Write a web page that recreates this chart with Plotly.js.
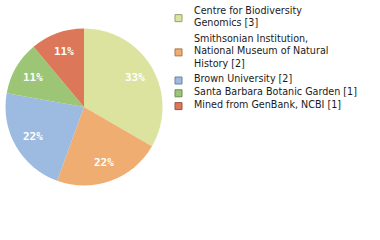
<!DOCTYPE html>
<html><head><meta charset="utf-8">
<script src="https://cdn.plot.ly/plotly-3.0.1.min.js"></script>
<style>html,body{margin:0;padding:0;background:#fff}#c{width:380px;height:240px}</style>
</head><body><div id="c"></div>
<script>
const labels = ["Centre for Biodiversity<br>Genomics [3]", "Smithsonian Institution,<br>National Museum of Natural<br>History [2]", "Brown University [2]", "Santa Barbara Botanic Garden [1]", "Mined from GenBank, NCBI [1]"];
const values = [3, 2, 2, 1, 1];
const colors = ["#dce39f", "#efad72", "#9dbae0", "#9dc576", "#dc7859"];
const swatchBorders = ["#9a9e6f", "#a7794f", "#6d829c", "#6e8a52", "#9a543e"];

const W = 380, H = 240;
// pie geometry (px)
const cx = 84, cy = 107, R = 78.5;

const annotations = [];
const shapes = [];
// percentage labels along slice mid-angles
const total = values.reduce((a, b) => a + b, 0);
let acc = 0;
values.forEach((v, i) => {
  const mid = (acc + v / 2) / total * 2 * Math.PI;
  acc += v;
  const px = cx + 0.75 * R * Math.sin(mid);
  const py = cy - 0.75 * R * Math.cos(mid);
  annotations.push({
    x: px / W, y: 1 - py / H, xref: "paper", yref: "paper",
    text: Math.round(v / total * 100) + "%", showarrow: false,
    xanchor: "center", yanchor: "middle",
    font: {family: "DejaVu Sans Mono", size: 11, color: "#ffffff", weight: 600}
  });
});

// legend
const lineH = 12.3;
let ly = 10.5; // centre of first text line
labels.forEach((lab, i) => {
  const lines = lab.split("<br>");
  const midY = ly + (lines.length - 1) * lineH / 2 + 1.5;
  shapes.push({type: "rect", xref: "paper", yref: "paper",
    x0: 175 / W, x1: 182 / W, y0: 1 - (midY - 3.5) / H, y1: 1 - (midY + 3.5) / H,
    fillcolor: colors[i], line: {color: swatchBorders[i], width: 1}});
  lines.forEach((t, k) => {
    annotations.push({
      x: 192 / W, y: 1 - (ly + k * lineH) / H, xref: "paper", yref: "paper",
      text: t, showarrow: false, xanchor: "left", yanchor: "middle",
      font: {family: "DejaVu Sans", size: 9.6, color: "#1a1a1a"}
    });
  });
  ly += lines.length * lineH + (lines.length > 1 ? 3.5 : 0.5);
});

Plotly.newPlot("c", [{
  type: "pie",
  labels: labels,
  values: values,
  sort: false,
  direction: "clockwise",
  rotation: 0,
  marker: {colors: colors, line: {width: 0}},
  textinfo: "none",
  domain: {x: [(cx - R) / W, (cx + R) / W], y: [1 - (cy + R) / H, 1 - (cy - R) / H]},
  hoverinfo: "none"
}], {
  width: W, height: H,
  margin: {l: 0, r: 0, t: 0, b: 0},
  paper_bgcolor: "#fff",
  showlegend: false,
  annotations: annotations,
  shapes: shapes,
  font: {family: "DejaVu Sans"}
}, {staticPlot: true});
</script></body></html>
